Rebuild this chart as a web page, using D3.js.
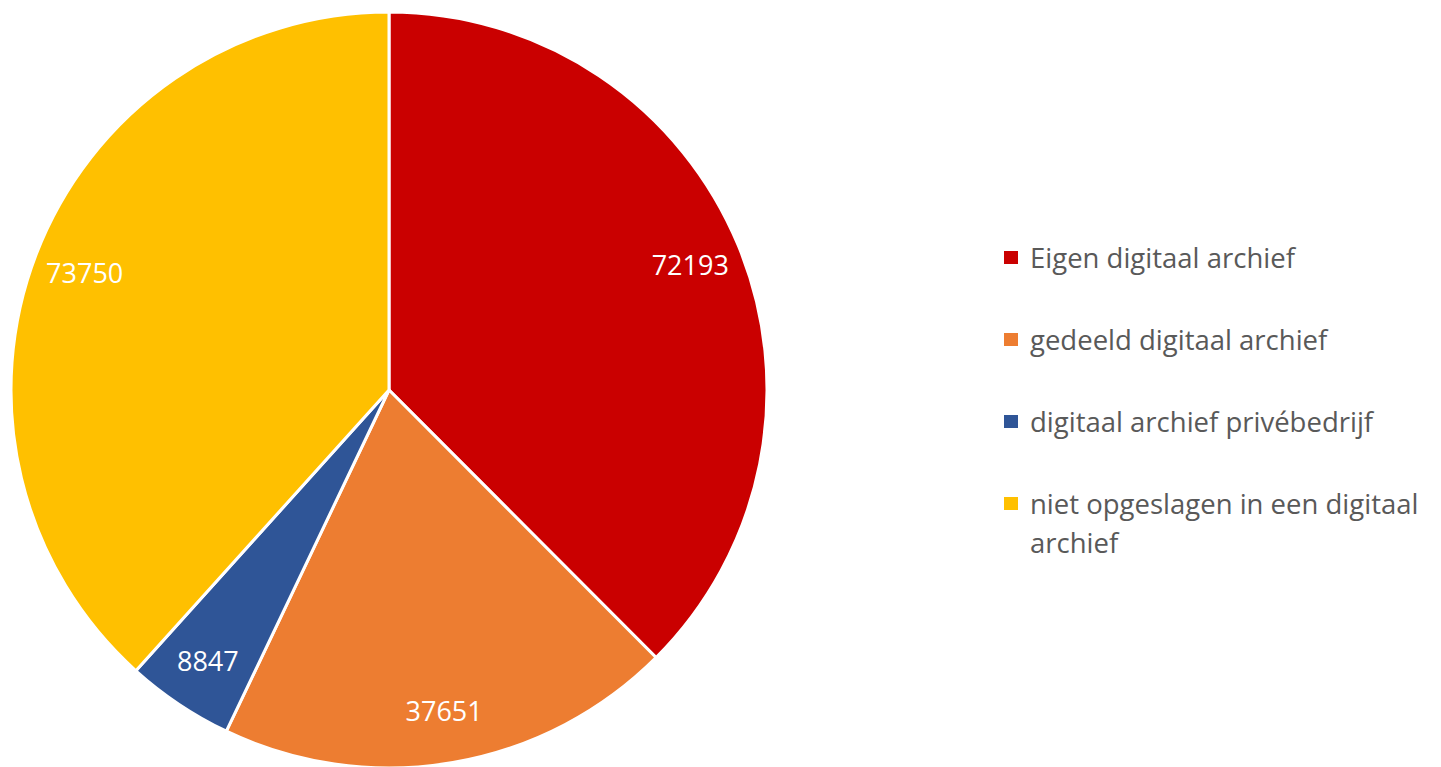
<!DOCTYPE html>
<html>
<head>
<meta charset="utf-8">
<script src="https://cdn.jsdelivr.net/npm/d3@7"></script>
<style>
  html, body { margin: 0; padding: 0; background: #fff; }
  svg { display: block; }
</style>
</head>
<body>
<div id="chart"></div>
<script>
// Data
const categories = [
    "Eigen digitaal archief",
    "gedeeld digitaal archief",
    "digitaal archief privébedrijf",
    "niet opgeslagen in een digitaal archief"
];
const values = [72193, 37651, 8847, 73750];
const colors = ["#CA0000", "#ED7D31", "#2F5597", "#FFC000"];
// legend text split into lines the way the original wraps it
const legendLines = [
    ["Eigen digitaal archief"],
    ["gedeeld digitaal archief"],
    ["digitaal archief privébedrijf"],
    ["niet opgeslagen in een digitaal", "archief"]
];

const width = 1441, height = 767;
const cx = 389, cy = 390, radius = 378;

const svg = d3.select("#chart")
    .append("svg")
    .attr("width", width)
    .attr("height", height);

const data = categories.map((c, i) => ({ name: c, value: values[i], color: colors[i] }));

// pie starts at 12 o'clock and goes clockwise, no sorting
const pie = d3.pie().sort(null).value(d => d.value);
const arcs = pie(data);

const arc = d3.arc().innerRadius(0).outerRadius(radius);
const labelArc = d3.arc().innerRadius(326).outerRadius(326);

const g = svg.append("g")
    .attr("transform", "translate(" + cx + "," + cy + ")");

g.selectAll("path")
    .data(arcs)
    .enter()
    .append("path")
    .attr("d", arc)
    .attr("fill", d => d.data.color)
    .attr("stroke", "#fff")
    .attr("stroke-width", 3)
    .attr("stroke-linejoin", "round");

// value labels inside the slices
g.selectAll(".value-label")
    .data(arcs)
    .enter()
    .append("text")
    .attr("class", "value-label")
    .attr("transform", d => "translate(" + labelArc.centroid(d) + ")")
    .attr("text-anchor", "middle")
    .attr("dy", "0.36em")
    .style("font-family", "'Open Sans', sans-serif")
    .style("font-size", "27px")
    .attr("fill", "#fff")
    .text(d => d.data.value);

// legend
const legend = svg.append("g")
    .attr("transform", "translate(1004,258)");

const rowStep = 82;
const items = legend.selectAll(".legend-item")
    .data(data)
    .enter()
    .append("g")
    .attr("class", "legend-item")
    .attr("transform", (d, i) => "translate(0," + (i * rowStep) + ")");

items.append("rect")
    .attr("x", 0)
    .attr("y", -7)
    .attr("width", 14)
    .attr("height", 13)
    .attr("fill", d => d.color);

items.append("text")
    .attr("x", 26)
    .attr("y", 0)
    .style("font-family", "'Open Sans', sans-serif")
    .style("font-size", "27.5px")
    .attr("fill", "#595959")
    .each(function(d, i) {
        const t = d3.select(this);
        legendLines[i].forEach((line, j) => {
            t.append("tspan")
                .attr("x", 26)
                .attr("dy", j === 0 ? "0.36em" : "1.42em")
                .text(line);
        });
    });
</script>
</body>
</html>
